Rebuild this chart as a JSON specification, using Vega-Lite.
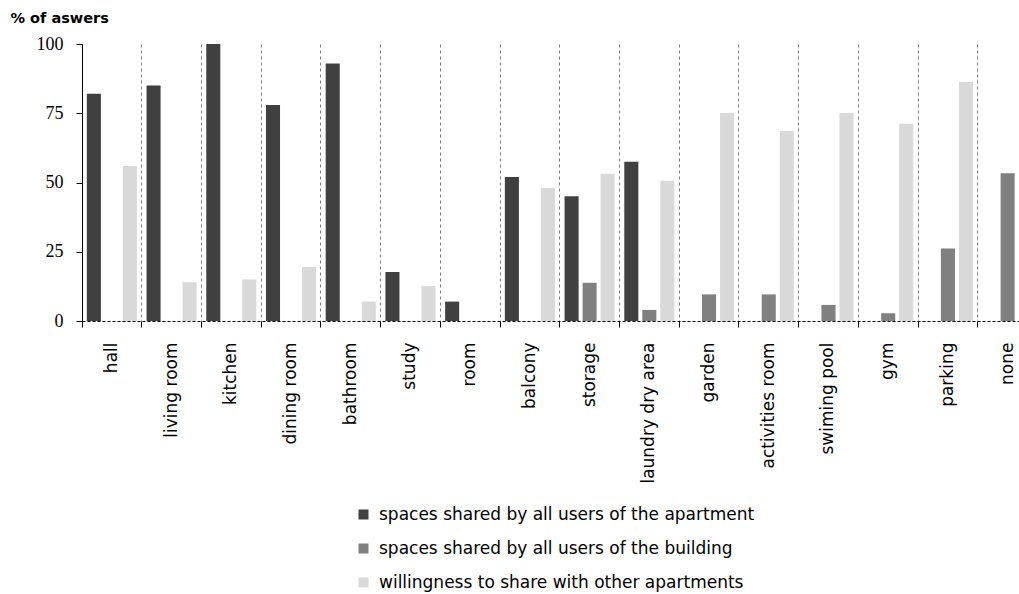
{
  "$schema": "https://vega.github.io/schema/vega-lite/v6.json",
  "autosize": {"type": "none"},
  "padding": {"left": 82, "top": 44, "right": 0, "bottom": 273},
  "width": 937,
  "height": 277,
  "background": "white",
  "config": {
    "view": {"stroke": null},
    "axis": {"labelColor": "black", "domainColor": "black", "tickColor": "black", "titleColor": "black"}
  },
  "data": {
    "values": [
      {"space": "hall", "series": "spaces shared by all users of the apartment", "pct": 82},
      {"space": "hall", "series": "willingness to share with other apartments", "pct": 56},
      {"space": "living room", "series": "spaces shared by all users of the apartment", "pct": 85},
      {"space": "living room", "series": "willingness to share with other apartments", "pct": 14},
      {"space": "kitchen", "series": "spaces shared by all users of the apartment", "pct": 100},
      {"space": "kitchen", "series": "willingness to share with other apartments", "pct": 15},
      {"space": "dining room", "series": "spaces shared by all users of the apartment", "pct": 78},
      {"space": "dining room", "series": "willingness to share with other apartments", "pct": 19.5},
      {"space": "bathroom", "series": "spaces shared by all users of the apartment", "pct": 93},
      {"space": "bathroom", "series": "willingness to share with other apartments", "pct": 7},
      {"space": "study", "series": "spaces shared by all users of the apartment", "pct": 17.7},
      {"space": "study", "series": "willingness to share with other apartments", "pct": 12.6},
      {"space": "room", "series": "spaces shared by all users of the apartment", "pct": 7},
      {"space": "balcony", "series": "spaces shared by all users of the apartment", "pct": 52},
      {"space": "balcony", "series": "willingness to share with other apartments", "pct": 48},
      {"space": "storage", "series": "spaces shared by all users of the apartment", "pct": 45},
      {"space": "storage", "series": "spaces shared by all users of the building", "pct": 13.8},
      {"space": "storage", "series": "willingness to share with other apartments", "pct": 53.2},
      {"space": "laundry dry area", "series": "spaces shared by all users of the apartment", "pct": 57.5},
      {"space": "laundry dry area", "series": "spaces shared by all users of the building", "pct": 4},
      {"space": "laundry dry area", "series": "willingness to share with other apartments", "pct": 50.6},
      {"space": "garden", "series": "spaces shared by all users of the building", "pct": 9.6},
      {"space": "garden", "series": "willingness to share with other apartments", "pct": 75.1},
      {"space": "activities room", "series": "spaces shared by all users of the building", "pct": 9.6},
      {"space": "activities room", "series": "willingness to share with other apartments", "pct": 68.6},
      {"space": "swiming pool", "series": "spaces shared by all users of the building", "pct": 5.8},
      {"space": "swiming pool", "series": "willingness to share with other apartments", "pct": 75.1},
      {"space": "gym", "series": "spaces shared by all users of the building", "pct": 2.8},
      {"space": "gym", "series": "willingness to share with other apartments", "pct": 71.2},
      {"space": "parking", "series": "spaces shared by all users of the building", "pct": 26.2},
      {"space": "parking", "series": "willingness to share with other apartments", "pct": 86.3},
      {"space": "none", "series": "spaces shared by all users of the building", "pct": 53.3}
    ]
  },
  "mark": {"type": "bar"},
  "encoding": {
    "x": {
      "field": "space",
      "type": "nominal",
      "sort": ["hall", "living room", "kitchen", "dining room", "bathroom", "study", "room", "balcony", "storage", "laundry dry area", "garden", "activities room", "swiming pool", "gym", "parking", "none"],
      "scale": {"range": [0, 955.5], "paddingInner": 0, "paddingOuter": 0},
      "axis": {
        "title": null,
        "bandPosition": 0,
        "grid": true,
        "gridColor": "#808080",
        "gridDash": [3, 3],
        "gridWidth": 1,
        "domainDash": [3, 2],
        "domainColor": "black",
        "domainWidth": 1.2,
        "ticks": true,
        "tickSize": 6,
        "tickColor": "black",
        "labelAngle": 270,
        "labelPadding": 15,
        "labelFont": "DejaVu Sans",
        "labelFontSize": 17,
        "labelColor": "black",
        "labelLimit": 0
      }
    },
    "xOffset": {
      "field": "series",
      "type": "nominal",
      "scale": {
        "domain": ["spaces shared by all users of the apartment", "spaces shared by all users of the building", "willingness to share with other apartments"],
        "paddingInner": 0.22,
        "paddingOuter": 0.268
      }
    },
    "y": {
      "field": "pct",
      "type": "quantitative",
      "scale": {"domain": [0, 100], "nice": false},
      "axis": {
        "values": [0, 25, 50, 75, 100],
        "grid": false,
        "tickSize": 6,
        "labelPadding": 13,
        "labelFont": "Liberation Serif",
        "labelFontSize": 18,
        "labelColor": "black",
        "title": "% of aswers",
        "titleAngle": 0,
        "titleAlign": "left",
        "titleBaseline": "middle",
        "titleX": -72,
        "titleY": -26,
        "titleFont": "DejaVu Sans",
        "titleFontSize": 14.5,
        "titleFontWeight": "bold"
      }
    },
    "color": {
      "field": "series",
      "type": "nominal",
      "scale": {
        "domain": ["spaces shared by all users of the apartment", "spaces shared by all users of the building", "willingness to share with other apartments"],
        "range": ["#404040", "#808080", "#d9d9d9"]
      },
      "legend": {
        "title": null,
        "orient": "none",
        "legendX": 273,
        "legendY": 462,
        "direction": "vertical",
        "padding": 0,
        "symbolType": "square",
        "symbolSize": 100,
        "symbolStrokeWidth": 0,
        "labelFont": "DejaVu Sans",
        "labelFontSize": 17,
        "labelColor": "black",
        "labelOffset": 7,
        "labelLimit": 0,
        "rowPadding": 16
      }
    }
  }
}
